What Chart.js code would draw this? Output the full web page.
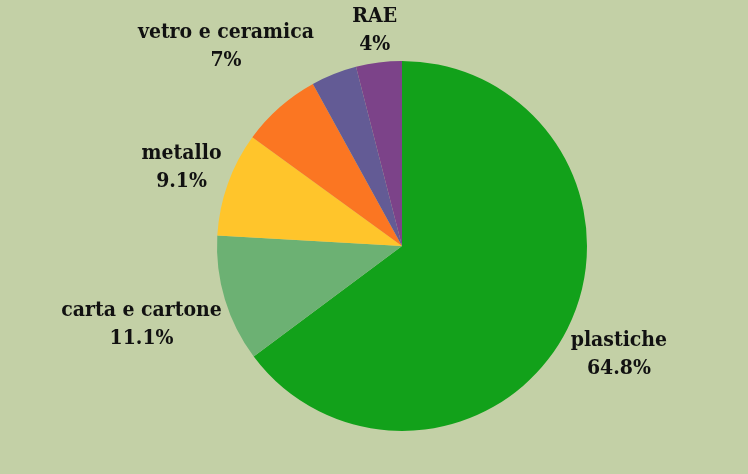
<!DOCTYPE html>
<html>
<head>
<meta charset="utf-8">
<script src="https://cdn.jsdelivr.net/npm/chart.js@4"></script>
<style>
  html, body { margin: 0; padding: 0; background: #c3d0a6; }
  #wrap { width: 748px; height: 474px; }
</style>
</head>
<body>
<div id="wrap"><canvas id="wasteChart" width="748" height="474"></canvas></div>
<script>
// Composizione rifiuti (%)
const categories = ['plastiche', 'carta e cartone', 'metallo', 'vetro e ceramica', 'altro', 'RAE'];
const percentages = [64.8, 11.1, 9.1, 7, 4, 4];
const valueLabels = ['64.8%', '11.1%', '9.1%', '7%', '', '4%'];
const sliceColors = ['#12a11a', '#6cb173', '#ffc52b', '#fb7622', '#635b95', '#7c4389'];

// draws "name / value" labels just outside each slice
const outsideLabels = {
    id: 'outsideLabels',
    afterDatasetsDraw(chart) {
        const ctx = chart.ctx;
        const meta = chart.getDatasetMeta(0);
        ctx.save();
        ctx.font = 'bold 21px "DejaVu Serif Condensed", "DejaVu Serif"';
        ctx.fillStyle = '#111';
        ctx.textAlign = 'center';
        ctx.textBaseline = 'middle';
        const lineH = 28;
        meta.data.forEach((arc, i) => {
            if (!valueLabels[i]) return;
            const lines = [categories[i], valueLabels[i]];
            const mid = (arc.startAngle + arc.endAngle) / 2;
            const dx = Math.cos(mid), dy = Math.sin(mid);
            const w = Math.max(...lines.map(t => ctx.measureText(t).width));
            const h = lineH * lines.length;
            const ext = Math.abs(dx) * w / 2 + Math.abs(dy) * h / 2;
            const dist = arc.outerRadius + 2 + ext;
            const cx = arc.x + dx * dist;
            const cy = arc.y + dy * dist;
            lines.forEach((t, k) => {
                ctx.fillText(t, cx, cy + (k - (lines.length - 1) / 2) * lineH);
            });
        });
        ctx.restore();
    }
};

new Chart(document.getElementById('wasteChart'), {
    type: 'pie',
    data: {
        labels: categories,
        datasets: [{
            data: percentages,
            backgroundColor: sliceColors,
            borderWidth: 0
        }]
    },
    options: {
        responsive: false,
        animation: false,
        layout: { padding: { top: 61, bottom: 43, left: 217, right: 161 } },
        plugins: {
            legend: { display: false },
            tooltip: { enabled: false }
        }
    },
    plugins: [outsideLabels]
});
</script>
</body>
</html>
